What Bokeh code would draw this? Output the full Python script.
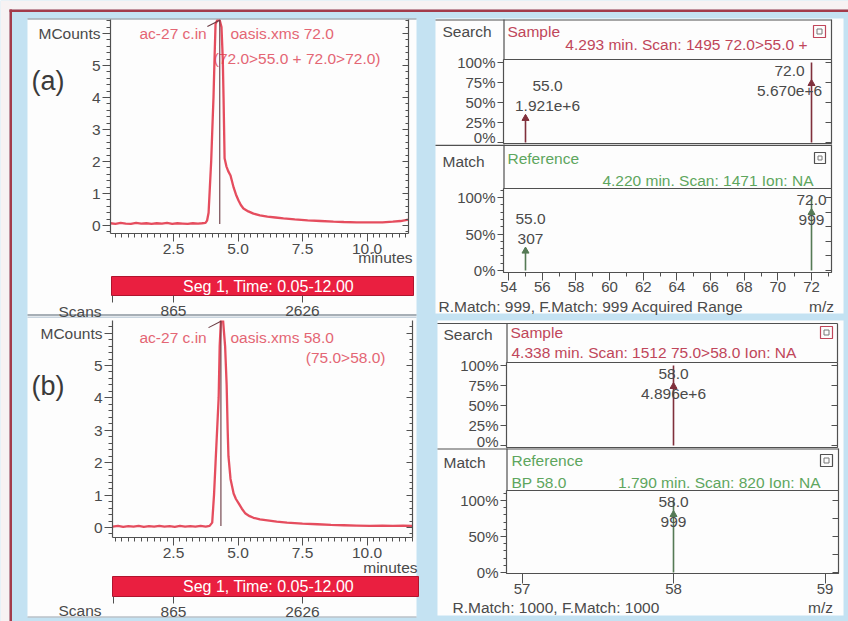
from bokeh.plotting import figure
from bokeh.layouts import column
from bokeh.models import (Range1d, LinearAxis, SingleIntervalTicker, FixedTicker,
                          PrintfTickFormatter)
from bokeh.core.properties import value
from bokeh.embed import file_html
from bokeh.resources import INLINE

# ---------------- data ----------------
chrom_a_time = [0.06, 0.25, 0.45, 0.65, 0.85, 1.05, 1.25, 1.45, 1.65, 1.85, 2.05, 2.25, 2.45,
                2.65, 2.85, 3.05, 3.25, 3.45, 3.6, 3.74, 3.8, 3.86, 3.91, 3.96, 4.0, 4.05, 4.09,
                4.13, 4.2, 4.29, 4.36, 4.41, 4.44, 4.48, 4.55, 4.62, 4.71, 4.83, 4.92, 5.02,
                5.11, 5.21, 5.4, 5.6, 5.85, 6.14, 6.45, 6.76, 7.2, 7.7, 8.2, 8.7, 9.1, 9.6,
                10.1, 10.6, 11.0, 11.3, 11.6]
chrom_a_mcounts = [0.07, 0.05, 0.08, 0.06, 0.05, 0.08, 0.06, 0.07, 0.05, 0.07, 0.06, 0.08, 0.05,
                   0.07, 0.06, 0.05, 0.07, 0.06, 0.07, 0.08, 0.15, 0.4, 1.2, 2.0, 2.9, 4.0, 5.2,
                   6.3, 6.42, 6.42, 6.2, 5.2, 4.0, 2.1, 1.85, 1.7, 1.56, 1.19, 0.97, 0.78,
                   0.64, 0.53, 0.44, 0.37, 0.32, 0.28, 0.25, 0.22, 0.19, 0.16, 0.14, 0.12, 0.11,
                   0.10, 0.10, 0.10, 0.12, 0.14, 0.18]
chrom_b_time = [0.14, 0.35, 0.55, 0.75, 0.95, 1.15, 1.35, 1.55, 1.75, 1.95, 2.15, 2.35, 2.55,
                2.75, 2.95, 3.15, 3.35, 3.55, 3.75, 3.9, 4.0, 4.07, 4.13, 4.19, 4.25, 4.29,
                4.34, 4.42, 4.5, 4.56, 4.6, 4.63, 4.71, 4.83, 4.92, 5.02, 5.15, 5.29, 5.45,
                5.6, 5.85, 6.14, 6.5, 6.9, 7.5, 8.08, 8.6, 9.1, 9.6, 10.1, 10.6, 11.0, 11.4,
                11.75]
chrom_b_mcounts = [0.03, 0.05, 0.02, 0.04, 0.03, 0.05, 0.02, 0.04, 0.03, 0.05, 0.03, 0.04, 0.02,
                   0.05, 0.03, 0.04, 0.03, 0.05, 0.03, 0.05, 0.15, 1.0, 2.0, 3.0, 4.0, 5.6,
                   6.42, 6.4, 5.6, 4.4, 3.0, 2.2, 1.5, 1.05, 0.88, 0.75, 0.58, 0.43, 0.35,
                   0.3, 0.25, 0.22, 0.18, 0.15, 0.12, 0.1, 0.08, 0.07, 0.06, 0.05, 0.06, 0.05,
                   0.06, 0.05]
peak_rt_a = 4.293
peak_rt_b = 4.338
chrom_a_titles = ["ac-27 c.in", "oasis.xms 72.0", "(72.0>55.0 + 72.0>72.0)"]
chrom_b_titles = ["ac-27 c.in", "oasis.xms 58.0", "(75.0>58.0)"]
segment_text = "Seg 1, Time: 0.05-12.00"
scan_tick_minutes = [2.5, 7.5]
scan_tick_numbers = [865, 2626]

spec_a_sample_mz = [55.0, 72.0]
spec_a_sample_counts = [1.921e6, 5.670e6]
spec_a_ref_mz = [55.0, 72.0]
spec_a_ref_abund = [307, 999]
spec_b_sample_mz = [58.0]
spec_b_sample_counts = [4.896e6]
spec_b_ref_mz = [58.0]
spec_b_ref_abund = [999]

header_a_sample = "4.293 min. Scan: 1495 72.0>55.0 +"
header_a_ref = "4.220 min. Scan: 1471 Ion: NA"
header_b_sample = "4.338 min. Scan: 1512 75.0>58.0 Ion: NA"
header_b_ref_bp = "BP 58.0"
header_b_ref = "1.790 min. Scan: 820 Ion: NA"
match_a = "R.Match: 999, F.Match: 999 Acquired Range"
match_b = "R.Match: 1000, F.Match: 1000"

# ---------------- style ----------------
FONT = "Liberation Sans"
BLUE = "#c4e2f2"
RED_BORDER = "#a33b4a"
OUTSIDE = "#f7f2f3"
WHITE = "#fdfdfd"
TXT = "#4a4a4a"
FRAME = "#505050"
TRACE = "#e23a4c"
MARK = "#6a3a42"
TITLE_C = "#e46674"
SEG_RED = "#ea1f40"
SAMPLE_C = "#c0465a"
REF_C = "#5ea65e"
SAMPLE_LINE = "#80303c"
REF_LINE = "#557a55"
TEXT_SIZE = "15.5px"
TICK_SIZE = "15px"


def new_fig(w, h, xr, yr, borders):
    p = figure(width=int(w), height=int(h), x_range=Range1d(xr[0], xr[1]),
               y_range=Range1d(yr[0], yr[1]), output_backend="svg", toolbar_location=None,
               title=None, x_axis_location=None, y_axis_location=None,
               min_border_left=int(borders[0]), min_border_right=int(borders[1]),
               min_border_top=int(borders[2]), min_border_bottom=int(borders[3]))
    try:
        p.frame_align = False
    except Exception:
        pass
    p.grid.visible = False
    p.outline_line_color = None
    p.background_fill_alpha = 0
    p.border_fill_alpha = 0
    return p


def place(p, left, top):
    p.styles = {"position": "absolute", "left": f"{int(left)}px", "top": f"{int(top)}px"}


def box(p, x0, x1, y0, y1, color):
    p.quad(left=[x0], right=[x1], top=[y0], bottom=[y1], fill_color=color, line_color=None)


def seg(p, x0, y0, x1, y1, color=FRAME, width=1.2):
    p.segment(x0=[x0], y0=[y0], x1=[x1], y1=[y1], line_color=color, line_width=width)


def txt(p, x, y, s, color=TXT, size=TEXT_SIZE, align="left"):
    p.text(x=[x], y=[y], text=[s], text_font=value(FONT), text_font_size=value(size),
           text_color=color, text_align=value(align), text_baseline=value("middle"))


def icon(p, x0, y0, s, color):
    p.quad(left=[x0], right=[x0 + s], top=[y0], bottom=[y0 + s], fill_color=None,
           line_color=color, line_width=1.2)
    p.quad(left=[x0 + 3.5], right=[x0 + s - 3.5], top=[y0 + 3.5], bottom=[y0 + s - 3.5],
           fill_color=None, line_color="#777777", line_width=1)


def plot_fig(box_px, frame, xmap, ymap):
    left, top, right, bottom = box_px
    fl, ft, fr, fb = frame

    def gx(px):
        return xmap[1] + (px - xmap[0]) / xmap[2]

    def gy(py):
        return ymap[1] + (ymap[0] - py) / ymap[2]

    def pxf(v):
        return xmap[0] + (v - xmap[1]) * xmap[2]

    def pyf(v):
        return ymap[0] - (v - ymap[1]) * ymap[2]

    p = new_fig(right - left, bottom - top, (gx(fl), gx(fr)), (gy(fb), gy(ft)),
                (fl - left, right - fr, ft - top, bottom - fb))
    place(p, left, top)
    return p, gx, gy, pxf, pyf


def axis(p, side, ticker, formatter=None, labels=True, tick_out=6, tick_in=0, minor_out=3,
         minor_in=0, standoff=2, overrides=None, line=True, size=TICK_SIZE):
    kw = {}
    if formatter is not None:
        kw["formatter"] = formatter
    ax = LinearAxis(ticker=ticker, **kw)
    ax.axis_line_color = FRAME if line else None
    ax.axis_line_width = 1.2
    ax.major_tick_line_color = FRAME
    ax.minor_tick_line_color = FRAME
    ax.major_tick_out = tick_out
    ax.major_tick_in = tick_in
    ax.minor_tick_out = minor_out
    ax.minor_tick_in = minor_in
    ax.major_label_standoff = standoff
    ax.major_label_text_font = FONT
    if labels:
        ax.major_label_text_font_size = size
        ax.major_label_text_color = TXT
    else:
        ax.major_label_text_font_size = "1px"
        ax.major_label_text_color = None
    if overrides:
        ax.major_label_overrides = overrides
    p.add_layout(ax, side)
    return ax


def chromatogram(box_px, frame, y0px, ppu_y, time, counts, rt):
    p, gx, gy, pxf, pyf = plot_fig(box_px, frame, (108.5, 0.0, 25.8), (y0px, 0.0, ppu_y))
    p.line(time, counts, line_color=TRACE, line_width=2.3, line_alpha=0.9)
    ytop = gy(frame[1])
    p.segment(x0=[rt], y0=[0.05], x1=[rt], y1=[ytop], line_color=MARK, line_width=1.1)
    p.segment(x0=[rt - 0.48], y0=[ytop - 0.22], x1=[rt], y1=[ytop - 0.02], line_color=MARK,
              line_width=1.1)
    axis(p, "left", SingleIntervalTicker(interval=1, num_minor_ticks=5), tick_out=8, minor_out=4,
         standoff=2, overrides={6: "MCounts"}, size=TEXT_SIZE)
    axis(p, "below", SingleIntervalTicker(interval=2.5, num_minor_ticks=10),
         PrintfTickFormatter(format="%.1f"), tick_out=8, minor_out=4, standoff=2, size=TEXT_SIZE)
    axis(p, "right", SingleIntervalTicker(interval=1, num_minor_ticks=5), labels=False, tick_out=0,
         tick_in=6, minor_out=0, minor_in=3, standoff=0)
    return p


def segbar(box_px, frame):
    fh = frame[3] - frame[1]
    p, gx, gy, pxf, pyf = plot_fig(box_px, frame, (173, 2.5, 25.8), (frame[3], 0.0, fh))
    p.background_fill_color = SEG_RED
    p.background_fill_alpha = 1
    p.outline_line_color = "#b0142e"
    txt(p, gx(268), 0.5, segment_text, "white", "16px", "center")
    start = round(gx(frame[0] + 1), 3)
    ticks = [start] + scan_tick_minutes
    ov = {start: ""}
    ov.update({t: str(n) for t, n in zip(scan_tick_minutes, scan_tick_numbers)})
    axis(p, "below", FixedTicker(ticks=ticks), tick_out=7, minor_out=0, standoff=3,
         overrides=ov, line=False, size=TEXT_SIZE)
    return p


def sci(c):
    mant, ex = f"{c:.3e}".split("e")
    return f"{mant}e+{int(ex)}"


def spectrum(p, gx, gy, pxf, pyf, mz, pct, lab1, lab2, color, clamp_top, dxs):
    p.segment(x0=mz, y0=[0] * len(mz), x1=mz, y1=pct, line_color=color, line_width=1.6)
    for m, v, a, b, dx in zip(mz, pct, lab1, lab2, dxs):
        top = pyf(v)
        l2 = top - 9
        l1 = l2 - 20
        if l1 < clamp_top + 11:
            l1 = clamp_top + 11
            l2 = l1 + 20
            arrow = (l1 + l2) / 2
        else:
            arrow = top
        xc = gx(pxf(m) + dx)
        txt(p, xc, gy(l1), a, align="center")
        txt(p, xc, gy(l2), b, align="center")
        p.scatter([m], [gy(arrow + 3)], marker="triangle", size=7, color=color)


def pct_axes(p, major, minor, right_step):
    axis(p, "left", SingleIntervalTicker(interval=major, num_minor_ticks=minor),
         PrintfTickFormatter(format="%d%%"), tick_out=6, minor_out=3, standoff=2)
    axis(p, "right", SingleIntervalTicker(interval=right_step, num_minor_ticks=0), labels=False,
         tick_out=0, tick_in=6, standoff=0)


# ---------------- background page (panels, headers, captions) ----------------
bg = new_fig(848, 621, (0, 848), (621, 0), (0, 0, 0, 0))
bg.background_fill_color = BLUE
bg.background_fill_alpha = 1
bg.border_fill_color = BLUE
bg.border_fill_alpha = 1
box(bg, 0, 848, 0, 9, OUTSIDE)
box(bg, 0, 9, 0, 621, OUTSIDE)
box(bg, 9, 11.5, 9, 621, RED_BORDER)
box(bg, 9, 848, 9, 11.5, RED_BORDER)
box(bg, 27, 416, 18, 617, WHITE)
box(bg, 435, 843, 18, 313, WHITE)
box(bg, 437, 843, 320, 615, WHITE)
seg(bg, 27, 18.5, 416, 18.5, "#7d8590", 1.2)
seg(bg, 27, 314.5, 416, 314.5, "#8a949e", 1.6)
seg(bg, 27, 316.8, 416, 316.8, "#c8d4de", 1.4)
seg(bg, 27, 616.5, 416, 616.5, "#9aa3ad", 1.2)

# header boxes of the spectra
seg(bg, 435, 19.5, 831, 19.5)
seg(bg, 503.5, 19, 503.5, 59)
seg(bg, 831, 19, 831, 59)
txt(bg, 442, 31, "Search")
txt(bg, 507, 31, "Sample", SAMPLE_C)
icon(bg, 813, 25, 12, SAMPLE_C)
txt(bg, 807, 44, header_a_sample, SAMPLE_C, align="right")

seg(bg, 435, 144.8, 831, 144.8)
seg(bg, 503.5, 144, 503.5, 188)
seg(bg, 831, 144, 831, 188)
txt(bg, 442, 161, "Match")
txt(bg, 507, 158, "Reference", REF_C)
icon(bg, 814, 152, 11, FRAME)
txt(bg, 813, 180, header_a_ref, REF_C, align="right")
txt(bg, 438, 306, match_a)
txt(bg, 821, 306, "m/z", align="center")

seg(bg, 437, 323, 837, 323)
seg(bg, 506.5, 323, 506.5, 362)
seg(bg, 837, 323, 837, 362)
txt(bg, 443, 334, "Search")
txt(bg, 510, 332, "Sample", SAMPLE_C)
icon(bg, 820, 326, 12, SAMPLE_C)
txt(bg, 511, 352, header_b_sample, SAMPLE_C)

seg(bg, 437, 448.5, 838, 448.5)
seg(bg, 506.5, 448, 506.5, 490)
seg(bg, 838, 448, 838, 490)
txt(bg, 443, 462, "Match")
txt(bg, 511, 460, "Reference", REF_C)
icon(bg, 820, 454, 12, FRAME)
txt(bg, 511, 482, header_b_ref_bp, REF_C)
txt(bg, 820, 482, header_b_ref, REF_C, align="right")
txt(bg, 452, 607, match_b)
txt(bg, 820, 607, "m/z", align="center")

# chromatogram captions
txt(bg, 31, 80, "(a)", "#3a3a3a", "27px")
txt(bg, 139, 33, chrom_a_titles[0], TITLE_C)
txt(bg, 230, 33, chrom_a_titles[1], TITLE_C)
txt(bg, 380, 58, chrom_a_titles[2], TITLE_C, align="right")
txt(bg, 412, 257, "minutes", align="right")
txt(bg, 58, 311, "Scans")

txt(bg, 31, 385, "(b)", "#3a3a3a", "27px")
txt(bg, 139, 337, chrom_b_titles[0], TITLE_C)
txt(bg, 230, 337, chrom_b_titles[1], TITLE_C)
txt(bg, 385, 357, chrom_b_titles[2], TITLE_C, align="right")
txt(bg, 417, 567, "minutes", align="right")
txt(bg, 58, 610, "Scans")

# ---------------- chromatograms ----------------
chrom_a = chromatogram((27, 14, 416, 264), (110, 19, 408, 233), 225, 32.0,
                       chrom_a_time, chrom_a_mcounts, peak_rt_a)
seg_a = segbar((27, 274, 416, 318), (111, 276, 413, 296))
chrom_b = chromatogram((27, 315, 416, 568), (112, 320, 412, 537), 527, 32.4,
                       chrom_b_time, chrom_b_mcounts, peak_rt_b)
seg_b = segbar((27, 574, 420, 621), (112, 576, 418, 596))

# ---------------- spectra ----------------
rp1, gx, gy, pxf, pyf = plot_fig((436, 49, 848, 145), (503, 59, 831, 143), (525, 55.0, 16.824),
                                 (142, 0.0, 0.8))
rp1.outline_line_color = FRAME
pct_axes(rp1, 25, 0, 25)
pa = [c / max(spec_a_sample_counts) * 100 for c in spec_a_sample_counts]
spectrum(rp1, gx, gy, pxf, pyf, spec_a_sample_mz, pa, [f"{m:.1f}" for m in spec_a_sample_mz],
         [sci(c) for c in spec_a_sample_counts], SAMPLE_LINE, 59, [22, -22])

rp2, gx, gy, pxf, pyf = plot_fig((436, 178, 848, 302), (503, 188, 831, 272), (525, 55.0, 16.824),
                                 (270, 0.0, 0.73))
rp2.outline_line_color = FRAME
pct_axes(rp2, 50, 5, 20)
axis(rp2, "below", SingleIntervalTicker(interval=2, num_minor_ticks=2), tick_out=8, minor_out=4,
     standoff=1)
pr = [a / max(spec_a_ref_abund) * 100 for a in spec_a_ref_abund]
spectrum(rp2, gx, gy, pxf, pyf, spec_a_ref_mz, pr, [f"{m:.1f}" for m in spec_a_ref_mz],
         [str(a) for a in spec_a_ref_abund], REF_LINE, 188, [5, 0])

rp3, gx, gy, pxf, pyf = plot_fig((436, 352, 848, 449), (506, 362, 837, 447), (673, 58.0, 151.5),
                                 (445, 0.0, 0.8))
rp3.outline_line_color = FRAME
pct_axes(rp3, 25, 0, 25)
pb = [c / max(spec_b_sample_counts) * 100 for c in spec_b_sample_counts]
spectrum(rp3, gx, gy, pxf, pyf, spec_b_sample_mz, pb, [f"{m:.1f}" for m in spec_b_sample_mz],
         [sci(c) for c in spec_b_sample_counts], SAMPLE_LINE, 362, [0])

rp4, gx, gy, pxf, pyf = plot_fig((436, 480, 848, 601), (506, 490, 838, 573), (673, 58.0, 151.5),
                                 (572, 0.0, 0.72))
rp4.outline_line_color = FRAME
pct_axes(rp4, 50, 5, 25)
axis(rp4, "below", FixedTicker(ticks=[57, 58, 59]), tick_out=10, minor_out=0, standoff=0)
prb = [a / max(spec_b_ref_abund) * 100 for a in spec_b_ref_abund]
spectrum(rp4, gx, gy, pxf, pyf, spec_b_ref_mz, prb, [f"{m:.1f}" for m in spec_b_ref_mz],
         [str(a) for a in spec_b_ref_abund], REF_LINE, 490, [0])

layout = column(bg, chrom_a, seg_a, chrom_b, seg_b, rp1, rp2, rp3, rp4)

open("out.html", "w").write(file_html(layout, INLINE))
